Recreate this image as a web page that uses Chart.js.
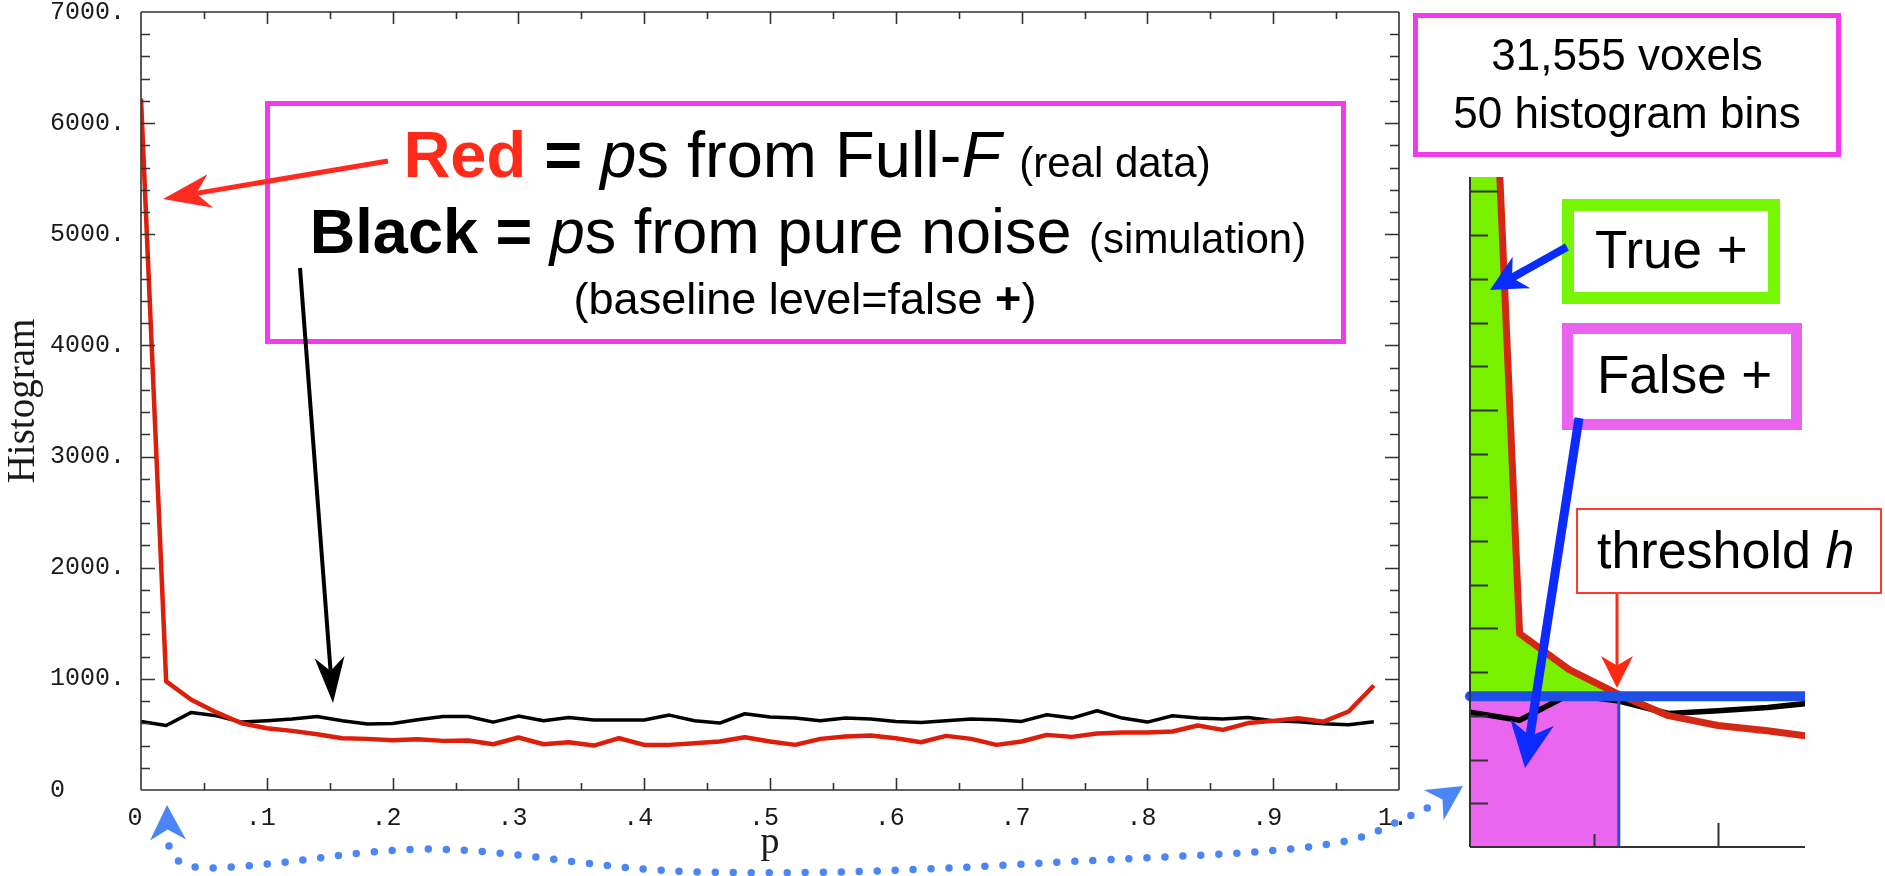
<!DOCTYPE html>
<html>
<head>
<meta charset="utf-8">
<script src="https://cdn.jsdelivr.net/npm/chart.js@4.4.1/dist/chart.umd.min.js"></script>
<style>
  html, body { margin: 0; padding: 0; background: #fff; }
  #wrap { position: relative; width: 1885px; height: 876px; overflow: hidden; }
  #mainChart { position: absolute; left: 0; top: 0; }
  #insetChart { position: absolute; left: 1440px; top: 160px; }
  #notes { position: absolute; left: 0; top: 0; }
</style>
</head>
<body>
<div id="wrap">
  <canvas id="mainChart" width="1420" height="876"></canvas>
  <canvas id="insetChart" width="380" height="700"></canvas>
  <svg id="notes" width="1885" height="876" xmlns="http://www.w3.org/2000/svg">
    <g font-family="'Liberation Sans', Arial, sans-serif" fill="#000">
      <!-- legend box -->
      <rect x="267.5" y="103.5" width="1076" height="238" fill="none" stroke="#F03CEB" stroke-width="5"/>
      <text x="807" y="177" text-anchor="middle" font-size="65"><tspan font-weight="bold" fill="#FF2A1A">Red</tspan><tspan font-weight="bold"> =</tspan> <tspan font-style="italic">p</tspan>s from Full-<tspan font-style="italic">F</tspan> <tspan font-size="42">(real data)</tspan></text>
      <text x="808" y="253" text-anchor="middle" font-size="63"><tspan font-weight="bold">Black =</tspan> <tspan font-style="italic">p</tspan>s from pure noise <tspan font-size="42">(simulation)</tspan></text>
      <text x="805" y="314" text-anchor="middle" font-size="45">(baseline level=false <tspan font-weight="bold">+</tspan>)</text>

      <!-- right side notes -->
      <rect x="1415.5" y="15.5" width="423" height="139" fill="none" stroke="#F03CEB" stroke-width="5"/>
      <text x="1627" y="70" text-anchor="middle" font-size="44">31,555 voxels</text>
      <text x="1627" y="128" text-anchor="middle" font-size="44">50 histogram bins</text>

      <rect x="1568" y="205" width="206" height="93" fill="#fff" stroke="#76F600" stroke-width="12"/>
      <text x="1595" y="268" font-size="53">True +</text>

      <rect x="1567.5" y="328.5" width="229" height="96" fill="#fff" stroke="#EA62F0" stroke-width="11"/>
      <text x="1597" y="393" font-size="53">False +</text>

      <rect x="1577" y="509" width="304" height="84" fill="#fff" stroke="#FF3B2F" stroke-width="2"/>
      <text x="1597" y="568" font-size="52">threshold <tspan font-style="italic">h</tspan></text>
    </g>
    <path id="dots" d="M169,846 C175,866 190,868 214,868 C300,864 350,850 428,849 C520,850 600,870 700,872 C850,875 950,868 1100,860 C1250,853 1340,850 1380,830 C1400,820 1420,812 1437,803"
          fill="none" stroke="#4A86F5" stroke-width="7.5" stroke-linecap="round" stroke-dasharray="0 18"/>
    <g id="arrows"></g>
  </svg>
</div>

<script>
// histogram bins (start of each bin) and counts
const pValues = [0.00, 0.02, 0.04, 0.06, 0.08, 0.10, 0.12, 0.14, 0.16, 0.18,
                 0.20, 0.22, 0.24, 0.26, 0.28, 0.30, 0.32, 0.34, 0.36, 0.38,
                 0.40, 0.42, 0.44, 0.46, 0.48, 0.50, 0.52, 0.54, 0.56, 0.58,
                 0.60, 0.62, 0.64, 0.66, 0.68, 0.70, 0.72, 0.74, 0.76, 0.78,
                 0.80, 0.82, 0.84, 0.86, 0.88, 0.90, 0.92, 0.94, 0.96, 0.98];
const redCounts = [6220, 977, 812, 698, 601, 556, 532, 502, 466, 460,
                   448, 457, 442, 445, 412, 472, 412, 430, 400, 466,
                   406, 406, 421, 436, 475, 436, 406, 460, 481, 490,
                   466, 430, 487, 460, 406, 436, 496, 478, 508, 517,
                   517, 526, 580, 541, 602, 622, 645, 615, 706, 940];
const blackCounts = [617, 580, 698, 668, 611, 623, 638, 662, 623, 593,
                     599, 632, 662, 662, 611, 665, 623, 653, 629, 629,
                     629, 674, 623, 602, 686, 656, 647, 623, 647, 638,
                     617, 608, 623, 638, 632, 617, 677, 647, 713, 647,
                     611, 668, 647, 638, 653, 624, 615, 597, 588, 615];
const xTickLabels = ['0', '.1', '.2', '.3', '.4', '.5', '.6', '.7', '.8', '.9', '1.'];
const yTickLabels = ['0', '1000.', '2000.', '3000.', '4000.', '5000.', '6000.', '7000.'];

// inset: threshold h and where red crosses it
const thresholdLevel = 690;
const thresholdP = 0.06;

const redPts = pValues.map((p, i) => ({x: p, y: redCounts[i]}));
const blackPts = pValues.map((p, i) => ({x: p, y: blackCounts[i]}));
const tickFont = {family: 'Liberation Mono', size: 25};

// box + inward ticks, like the original plotting program
const framePlugin = {
  id: 'frame',
  afterDatasetsDraw(chart, args, o) {
    const {ctx, chartArea: a, scales: {x, y}} = chart;
    ctx.save();
    ctx.strokeStyle = o.color;
    ctx.lineWidth = o.width;
    ctx.beginPath();
    if (o.left) { ctx.moveTo(a.left, a.top); ctx.lineTo(a.left, a.bottom); }
    if (o.right) { ctx.moveTo(a.right, a.top); ctx.lineTo(a.right, a.bottom); }
    if (o.top) { ctx.moveTo(a.left, a.top); ctx.lineTo(a.right, a.top); }
    if (o.bottom) { ctx.moveTo(a.left, a.bottom); ctx.lineTo(a.right, a.bottom); }
    for (let v = o.yMinor; v < y.max - 1e-6; v += o.yMinor) {
      const py = Math.round(y.getPixelForValue(v)) + 0.5;
      const major = Math.abs(v / o.yMajor - Math.round(v / o.yMajor)) < 1e-6;
      const len = major ? o.yLen[1] : o.yLen[0];
      if (o.left) { ctx.moveTo(a.left, py); ctx.lineTo(a.left + len, py); }
      if (o.right) { ctx.moveTo(a.right, py); ctx.lineTo(a.right - len, py); }
    }
    for (let v = o.xMinor; v < x.max - 1e-6; v += o.xMinor) {
      const px = Math.round(x.getPixelForValue(v)) + 0.5;
      const major = Math.abs(v / o.xMajor - Math.round(v / o.xMajor)) < 1e-6;
      const len = major ? o.xLen[1] : o.xLen[0];
      if (o.bottom) { ctx.moveTo(px, a.bottom); ctx.lineTo(px, a.bottom - len); }
      if (o.top) { ctx.moveTo(px, a.top); ctx.lineTo(px, a.top + len); }
    }
    ctx.stroke();
    ctx.restore();
  }
};

// main histogram
new Chart(document.getElementById('mainChart'), {
  type: 'line',
  data: {
    datasets: [
      {label: 'Full-F', data: redPts, borderColor: '#DC1E0A', borderWidth: 4.5},
      {label: 'pure noise', data: blackPts, borderColor: '#000', borderWidth: 3.5}
    ]
  },
  options: {
    responsive: false,
    animation: false,
    layout: {padding: {left: 50, top: 12, right: 21, bottom: 0}},
    elements: {point: {radius: 0}, line: {tension: 0, borderJoinStyle: 'round'}},
    plugins: {
      legend: {display: false},
      tooltip: {enabled: false},
      frame: {color: '#333', width: 1.6, left: true, right: true, top: true, bottom: true,
              yMinor: 200, yMajor: 1000, xMinor: 0.05, xMajor: 0.1, yLen: [9, 14], xLen: [7, 12]}
    },
    scales: {
      x: {
        type: 'linear', min: 0, max: 1,
        grid: {display: false}, border: {display: false},
        ticks: {stepSize: 0.1, padding: 5, labelOffset: -6, maxRotation: 0, autoSkip: false,
                font: tickFont, color: '#1a1a1a', callback: (v, i) => xTickLabels[i]},
        title: {display: true, text: 'p', font: {family: 'Liberation Serif', size: 38}, color: '#1a1a1a',
                padding: {top: 0, bottom: 10}},
        afterFit: s => { s.height = 86; s.paddingLeft = 0; s.paddingRight = 0; }
      },
      y: {
        min: 0, max: 7000,
        grid: {display: false}, border: {display: false},
        ticks: {stepSize: 1000, crossAlign: 'far', font: tickFont, color: '#1a1a1a',
                callback: (v, i) => yTickLabels[i]},
        title: {display: true, text: 'Histogram', font: {family: 'Liberation Serif', size: 39}, color: '#1a1a1a',
                padding: {top: -50, bottom: 0}},
        afterFit: s => { s.width = 91; s.paddingTop = 0; s.paddingBottom = 0; }
      }
    }
  },
  plugins: [framePlugin]
});

// zoomed inset of the low-p corner
new Chart(document.getElementById('insetChart'), {
  type: 'line',
  data: {
    datasets: [
      {label: 'threshold', data: [{x: 0, y: thresholdLevel}, {x: 0.1351, y: thresholdLevel}],
       borderColor: '#1E50E6', borderWidth: 10, borderCapStyle: 'round',
       clip: {left: 8, top: 0, right: 0, bottom: 0}},
      {label: 'Full-F', data: redPts, borderColor: '#D42814', borderWidth: 7,
       fill: {target: {value: thresholdLevel}, above: '#78F000', below: 'rgba(0,0,0,0)'}},
      {label: 'cut', data: [{x: thresholdP, y: 0}, {x: thresholdP, y: thresholdLevel}],
       borderColor: '#2A4FE0', borderWidth: 3},
      {label: 'pure noise', data: blackPts, borderColor: '#000', borderWidth: 5.5},
      {label: 'false', data: [{x: 0, y: thresholdLevel}, {x: thresholdP, y: thresholdLevel}],
       borderWidth: 0, backgroundColor: '#EA66EE', fill: 'origin'}
    ]
  },
  options: {
    responsive: false,
    animation: false,
    layout: {padding: {left: 30, top: 17, right: 15, bottom: 13}},
    elements: {point: {radius: 0}, line: {tension: 0, borderJoinStyle: 'round'}},
    plugins: {
      legend: {display: false},
      tooltip: {enabled: false},
      frame: {color: '#333', width: 2, left: true, bottom: true,
              yMinor: 200, yMajor: 1000, xMinor: 0.05, xMajor: 0.1, yLen: [18, 28], xLen: [13, 24]}
    },
    scales: {
      x: {type: 'linear', min: 0, max: 0.1351, display: false},
      y: {min: 0, max: 3066, display: false}
    }
  },
  plugins: [framePlugin]
});

// annotation arrows
const NS = 'http://www.w3.org/2000/svg';
const arrowLayer = document.getElementById('arrows');

function head(tipX, tipY, fromX, fromY, len, wid, color) {
  const dx = tipX - fromX, dy = tipY - fromY, L = Math.hypot(dx, dy);
  const ux = dx / L, uy = dy / L, px = -uy, py = ux;
  const bx = tipX - ux * len, by = tipY - uy * len;
  const nx = tipX - ux * len * 0.7, ny = tipY - uy * len * 0.7;
  const pts = [[tipX, tipY], [bx + px * wid / 2, by + py * wid / 2], [nx, ny], [bx - px * wid / 2, by - py * wid / 2]];
  const poly = document.createElementNS(NS, 'polygon');
  poly.setAttribute('points', pts.map(p => p.join(',')).join(' '));
  poly.setAttribute('fill', color);
  arrowLayer.appendChild(poly);
  return [nx, ny];
}

function arrow(x1, y1, x2, y2, lw, len, wid, color) {
  const [nx, ny] = head(x2, y2, x1, y1, len, wid, color);
  const ln = document.createElementNS(NS, 'line');
  ln.setAttribute('x1', x1); ln.setAttribute('y1', y1);
  ln.setAttribute('x2', nx); ln.setAttribute('y2', ny);
  ln.setAttribute('stroke', color); ln.setAttribute('stroke-width', lw);
  arrowLayer.appendChild(ln);
}

arrow(388, 161, 163, 199, 5, 48, 34, '#FF2A20');
arrow(300, 268, 333, 703, 4, 46, 30, '#000');
arrow(1567, 247, 1490, 290, 8, 36, 36, '#0A2BFF');
arrow(1579, 418, 1525, 768, 9, 46, 44, '#0D2BFF');
arrow(1617, 594, 1617, 688, 3, 32, 32, '#FF2A10');
head(167, 805, 168, 840, 35, 36, '#4A86F5');
head(1463, 786, 1434, 805, 35, 36, '#4A86F5');
</script>
</body>
</html>
